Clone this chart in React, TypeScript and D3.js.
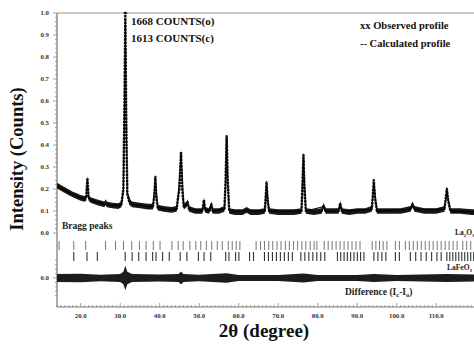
import React from "react";
import * as d3 from "d3";

const W = 474;
const H = 345;

// Observed profile: [2θ, normalized intensity]
const observed: [number, number][] = [
  [14, 0.215], [15, 0.205], [16, 0.195], [17, 0.185], [18, 0.175], [19, 0.168], [20, 0.16], [21, 0.155],
  [21.4, 0.16], [21.7, 0.25], [22.0, 0.16], [22.5, 0.15], [24, 0.14], [26, 0.13], [26.3, 0.14], [26.6, 0.13],
  [28, 0.125], [29.5, 0.122], [30.3, 0.13], [30.8, 0.2], [31.1, 0.6], [31.3, 1.0], [31.5, 0.55], [31.8, 0.18],
  [32.3, 0.14], [33, 0.13], [35, 0.125], [37, 0.12], [38.3, 0.12], [38.7, 0.18], [38.9, 0.255], [39.1, 0.17],
  [39.5, 0.115], [41, 0.11], [43, 0.105], [44.3, 0.11], [44.7, 0.17], [45.0, 0.2], [45.4, 0.37], [45.7, 0.2],
  [46.1, 0.12], [46.8, 0.13], [47.1, 0.14], [47.4, 0.11], [49, 0.1], [50.8, 0.1], [51.2, 0.15], [51.5, 0.105],
  [52.5, 0.1], [53.1, 0.13], [53.4, 0.1], [55, 0.1], [56.4, 0.11], [56.7, 0.25], [56.95, 0.44], [57.2, 0.25],
  [57.6, 0.1], [59, 0.095], [61, 0.095], [62, 0.105], [63, 0.095], [65, 0.095], [66.6, 0.1], [66.9, 0.18],
  [67.05, 0.23], [67.3, 0.15], [67.7, 0.1], [70, 0.095], [72, 0.095], [74, 0.095], [75.9, 0.1], [76.2, 0.25],
  [76.4, 0.355], [76.6, 0.22], [77, 0.1], [79, 0.095], [81, 0.1], [81.5, 0.125], [82, 0.1], [85.3, 0.1],
  [85.7, 0.135], [86.1, 0.1], [88, 0.095], [90, 0.1], [92, 0.1], [93.7, 0.11], [94.0, 0.18], [94.2, 0.24],
  [94.5, 0.16], [95, 0.1], [98, 0.1], [101, 0.1], [103.5, 0.11], [104, 0.13], [104.5, 0.11], [107, 0.1],
  [110, 0.1], [112.1, 0.11], [112.5, 0.17], [112.7, 0.2], [113, 0.15], [113.6, 0.1], [116, 0.1], [119, 0.095], [120, 0.095],
];

// Calculated profile (main peak reaches 1613/1668 of observed)
const calculated: [number, number][] = [
  [14, 0.212], [17, 0.184], [20, 0.16], [21.4, 0.158], [21.7, 0.24], [22.0, 0.158], [24, 0.14], [26, 0.13],
  [28, 0.125], [30.3, 0.128], [30.8, 0.19], [31.1, 0.58], [31.3, 0.967], [31.5, 0.53], [31.8, 0.18], [33, 0.13],
  [36, 0.122], [38.3, 0.12], [38.9, 0.25], [39.5, 0.115], [43, 0.105], [44.3, 0.11], [44.7, 0.165], [45.4, 0.36],
  [46.1, 0.12], [47.1, 0.135], [47.4, 0.11], [50.8, 0.1], [51.2, 0.145], [51.5, 0.104], [52.8, 0.1], [53.1, 0.125],
  [53.4, 0.1], [56.4, 0.11], [56.7, 0.24], [56.95, 0.43], [57.2, 0.24], [57.6, 0.1], [62, 0.1], [66.6, 0.1],
  [67.05, 0.22], [67.7, 0.1], [75.9, 0.1], [76.4, 0.34], [77, 0.1], [81.5, 0.12], [82, 0.1], [85.3, 0.1],
  [85.7, 0.13], [86.1, 0.1], [93.7, 0.108], [94.2, 0.23], [95, 0.1], [103.5, 0.108], [104, 0.125], [104.5, 0.108],
  [112.1, 0.108], [112.7, 0.19], [113.6, 0.1], [120, 0.095],
];
const observedScatter = 0.013; // half spread of the observed point cloud (intensity units)

// Difference band half-width (diff units)
const diffTheta = [14, 20, 25, 30, 30.8, 31.3, 31.8, 33, 40, 44.8, 45.4, 46, 50, 56.9, 60, 70, 76.4, 80, 90, 94.2, 100, 112.7, 120];
const diffHalf = [0.018, 0.019, 0.015, 0.018, 0.028, 0.056, 0.028, 0.018, 0.016, 0.018, 0.03, 0.018, 0.015, 0.022, 0.014, 0.014, 0.02, 0.014, 0.014, 0.018, 0.014, 0.018, 0.016];

// Bragg reflection positions (2θ)
const braggLa2O3 = [
  14.53, 18.24, 21.26, 26.3, 28.82, 30.83, 32.92, 34.86, 36.55, 38.39, 40.08, 43.1, 44.69, 45.94, 47.63, 49.14,
  50.4, 51.81, 53.17, 54.58, 55.84, 57.36, 58.36, 59.37, 60.3, 64.41, 65.52, 66.52, 67.61, 68.61, 69.7, 70.71,
  71.81, 72.82, 73.9, 74.91, 76.0, 77.0, 78.1, 79.1, 79.8, 81.64, 82.65, 83.65, 84.66, 85.67, 86.68, 87.68,
  88.69, 89.7, 90.71, 93.8, 94.73, 95.64, 96.57, 97.51, 99.67, 100.68, 102.19, 103.2, 104.21, 105.22, 106.22,
  107.23, 108.24, 109.24, 110.25, 111.26, 112.27, 113.27, 114.28, 115.29, 116.73, 117.73, 118.74, 119.75,
];
const braggLaFeO3 = [
  18.24, 21.59, 24.21, 31.26, 33.02, 34.69, 36.55, 38.21, 39.07, 40.73, 42.42, 45.19, 46.88, 49.8, 51.23, 52.92,
  56.7, 57.53, 59.22, 60.05, 62.74, 63.75, 66.52, 67.53, 68.54, 69.55, 70.55, 71.56, 72.57, 73.58, 75.74, 76.75,
  77.76, 78.77, 79.77, 80.78, 81.79, 84.99, 85.82, 86.68, 87.51, 88.34, 89.19, 90.03, 90.86, 91.71, 94.23, 95.24,
  96.25, 97.25, 99.67, 100.68, 103.45, 104.81, 106.15, 107.48, 108.84, 110.18, 111.26, 112.7, 113.45, 114.21,
  114.96, 115.72, 116.47, 117.23, 117.98, 118.74, 119.5,
];

const xTicks = [20, 30, 40, 50, 60, 70, 80, 90, 100, 110];
const yTicks = [0, 0.1, 0.2, 0.3, 0.4, 0.5, 0.6, 0.7, 0.8, 0.9, 1.0];
const countsObserved = "1668  COUNTS(o)";
const countsCalculated = "1613  COUNTS(c)";

const FONT = "'Liberation Serif', 'Times New Roman', 'DejaVu Serif', serif";

export default function App() {
  const left = 57;
  const top = 13;
  const bottom = 307;
  const x = d3.scaleLinear().domain([14, 120]).range([left, left + 106 * 3.95]);
  const y = d3.scaleLinear().domain([0, 1]).range([233, top]);
  const yd = d3.scaleLinear().domain([-0.1, 0.1]).range([278 + 22, 278 - 22]);

  const line = d3.line<[number, number]>().x((d) => x(d[0])).y((d) => y(d[1]));
  const obsArea = d3
    .area<[number, number]>()
    .x((d) => x(d[0]))
    .y0((d) => y(d[1] - observedScatter))
    .y1((d) => y(d[1] + observedScatter));
  const diffArea = d3
    .area<number>()
    .x((_, i) => x(diffTheta[i]))
    .y0((_, i) => yd(-diffHalf[i]))
    .y1((_, i) => yd(diffHalf[i]));

  const minorY = d3.range(0, 1.0001, 0.02);
  const minorYd = d3.range(-0.08, 0.0801, 0.02);
  const minorX = d3.range(14, 121, 1);

  return (
    <svg width={W} height={H} style={{ position: "absolute", left: 0, top: 0, background: "#fff", fontFamily: FONT }}>
      <defs>
        <clipPath id="plot">
          <rect x={left} y={0} width={W - left} height={H} />
        </clipPath>
      </defs>
      {/* frame */}
      <line x1={left} x2={W} y1={top} y2={top} stroke="#9a9a9a" strokeWidth={1.2} />
      <line x1={left} x2={left} y1={top} y2={bottom} stroke="#777" strokeWidth={1.2} />
      <line x1={left} x2={W} y1={bottom} y2={bottom} stroke="#777" strokeWidth={1.2} />

      {/* y ticks */}
      {minorY.map((v, i) => (
        <line key={"my" + i} x1={left - (i % 5 === 0 ? 4 : 2)} x2={left} y1={y(v)} y2={y(v)} stroke="#777" strokeWidth={0.7} />
      ))}
      {minorYd.map((v, i) => (
        <line key={"myd" + i} x1={left - (Math.abs(v) < 1e-6 ? 4 : 2)} x2={left} y1={yd(v)} y2={yd(v)} stroke="#777" strokeWidth={0.7} />
      ))}
      {yTicks.map((v) => (
        <text key={"yt" + v} x={49} y={y(v) + 2.3} fontSize={6.8} fontWeight="bold" textAnchor="end" fill="#333">
          {v.toFixed(1)}
        </text>
      ))}
      <text x={49} y={yd(0) + 2.3} fontSize={6.8} fontWeight="bold" textAnchor="end" fill="#333">0.0</text>

      {/* x ticks */}
      {minorX.map((v) => (
        <line key={"mx" + v} x1={x(v)} x2={x(v)} y1={bottom} y2={bottom - (v % 10 === 0 ? 4 : 2)} stroke="#777" strokeWidth={0.7} />
      ))}
      {xTicks.map((v) => (
        <text key={"xt" + v} x={x(v)} y={318} fontSize={6.8} fontWeight="bold" textAnchor="middle" fill="#333">
          {v.toFixed(1)}
        </text>
      ))}

      <g clipPath="url(#plot)">
        {/* observed point cloud */}
        <path d={obsArea(observed) || ""} fill="#1a1a1a" />
        <path d={line(observed) || ""} fill="none" stroke="#111" strokeWidth={2.4} strokeLinejoin="round" strokeDasharray="2.5 0.8" />
        {/* calculated */}
        <path d={line(calculated) || ""} fill="none" stroke="#000" strokeWidth={1} />
        <line x1={x(31.3) - 2} x2={x(31.3) + 2} y1={y(1.0)} y2={y(1.0)} stroke="#000" strokeWidth={1} />

        {/* Bragg markers */}
        {braggLa2O3.map((t, i) => (
          <line key={"b1" + i} x1={x(t)} x2={x(t)} y1={241} y2={250} stroke="#666" strokeWidth={0.9} />
        ))}
        {braggLaFeO3.map((t, i) => (
          <line key={"b2" + i} x1={x(t)} x2={x(t)} y1={252} y2={261} stroke="#333" strokeWidth={1.1} />
        ))}

        {/* difference */}
        <path d={diffArea(diffTheta) || ""} fill="#1c1c1c" />
      </g>

      {/* annotations */}
      <text x={131} y={25} fontSize={11} fontWeight="bold" fill="#111">{countsObserved}</text>
      <text x={131} y={42} fontSize={11} fontWeight="bold" fill="#111">{countsCalculated}</text>
      <text x={360} y={29} fontSize={10.5} fontWeight="bold" fill="#111">xx  Observed profile</text>
      <text x={360} y={47} fontSize={10.5} fontWeight="bold" fill="#111">--  Calculated profile</text>
      <text x={62} y={229} fontSize={9.5} fontWeight="bold" fill="#222">Bragg peaks</text>
      <text x={455} y={235} fontSize={7.5} fontWeight="bold" fill="#222">
        La<tspan fontSize={5} dy={2}>2</tspan><tspan dy={-2}>O</tspan><tspan fontSize={5} dy={2}>3</tspan>
      </text>
      <text x={447} y={270} fontSize={7.5} fontWeight="bold" fill="#222">
        LaFeO<tspan fontSize={5} dy={2}>3</tspan>
      </text>
      <text x={345} y={295} fontSize={9.5} fontWeight="bold" fill="#222">
        Difference (I<tspan fontSize={6.5} dy={2}>c</tspan><tspan dy={-2}>-I</tspan><tspan fontSize={6.5} dy={2}>o</tspan><tspan dy={-2}>)</tspan>
      </text>

      {/* axis titles */}
      <text transform={`translate(23,159) rotate(-90)`} fontSize={18.5} fontWeight="bold" textAnchor="middle" fill="#111">
        Intensity (Counts)
      </text>
      <text x={264} y={337} fontSize={19} fontWeight="bold" textAnchor="middle" fill="#111">
        2θ (degree)
      </text>
    </svg>
  );
}
